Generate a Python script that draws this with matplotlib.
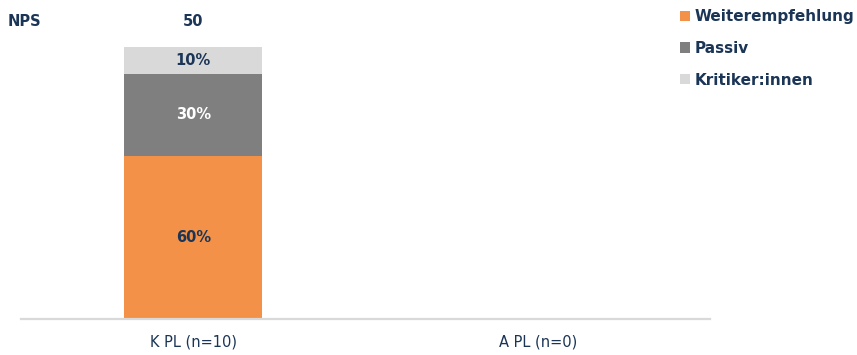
import matplotlib
matplotlib.use("Agg")
import matplotlib.pyplot as plt
import numpy as np
from matplotlib.transforms import blended_transform_factory

categories = ["K PL (n=10)", "A PL (n=0)"]
series_names = ["Weiterempfehlung", "Passiv", "Kritiker:innen"]
weiter = [60, 0]
passiv = [30, 0]
kritiker = [10, 0]
nps = ["50", ""]

colors = ["#F39149", "#7F7F7F", "#D9D9D9"]
label_colors = ["#1B3556", "#FFFFFF", "#1B3556"]
navy = "#1B3556"

plt.rcParams['font.family'] = ['DejaVu Sans']

fig = plt.figure(figsize=(8.57, 3.55), dpi=100)
ax = fig.add_axes([21/857, 1-319/355, 689/857, 272/355])

x = np.arange(len(categories))
bottoms = np.zeros(len(categories))
for vals, name, col, lc in zip([weiter, passiv, kritiker], series_names, colors, label_colors):
    vals = np.array(vals, dtype=float)
    ax.bar(x, vals, width=0.4, bottom=bottoms, color=col, label=name)
    for xi, v, b in zip(x, vals, bottoms):
        if v > 0:
            ax.text(xi, b + v/2, f"{int(v)}%", ha="center", va="center",
                    color=lc, fontsize=10.5, fontweight="bold")
    bottoms += vals

ax.set_xlim(-0.5, 1.5)
ax.set_ylim(0, 100)
ax.set_xticks(x)
ax.set_xticklabels(categories, fontsize=10.5, color=navy)
ax.tick_params(axis="x", length=0, pad=11)
ax.set_yticks([])
for s in ["top", "right", "left"]:
    ax.spines[s].set_visible(False)
ax.spines["bottom"].set_color("#D9D9D9")
ax.spines["bottom"].set_linewidth(1.6)

trans = blended_transform_factory(ax.transData, fig.transFigure)
for xi, t in zip(x, nps):
    if t:
        ax.text(xi, 1-22/355, t, transform=trans, ha="center", va="center",
                fontsize=10.5, fontweight="bold", color=navy)
fig.text(8/857, 1-22/355, "NPS", ha="left", va="center", fontsize=10.5,
         fontweight="bold", color=navy)

leg = ax.legend(loc="upper left", bbox_to_anchor=(680/857, 1-9/355),
                bbox_transform=fig.transFigure, frameon=False,
                handlelength=0.65, handleheight=0.65, handletextpad=0.3,
                labelspacing=1.1, borderpad=0, borderaxespad=0,
                prop={"size": 11, "weight": "bold"})
for t in leg.get_texts():
    t.set_color(navy)

fig.savefig("out.png", dpi=100)
